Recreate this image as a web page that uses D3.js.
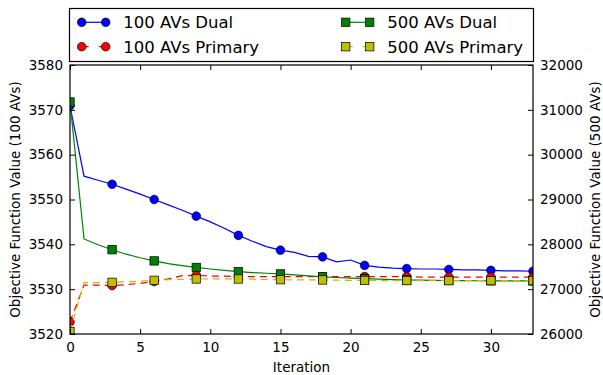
<!DOCTYPE html>
<html>
<head>
<meta charset="utf-8">
<script src="https://cdn.jsdelivr.net/npm/d3@7"></script>
<style>
    body { margin: 0; background: #fff; }
    text { font-family: "DejaVu Sans", sans-serif; fill: #000; }
</style>
</head>
<body>
<div id="chart"></div>
<script>
// Iterations 0..33
const iterations = d3.range(0, 34);

// 100 AVs (left axis)
const dual100 = [3570.9, 3555.2, 3554.3, 3553.4, 3552.3, 3551.2, 3550.0, 3548.8, 3547.6, 3546.3,
                 3545.0, 3543.6, 3542.0, 3540.7, 3539.5, 3538.7, 3538.2, 3537.3, 3537.2, 3536.1,
                 3536.5, 3535.3, 3534.9, 3534.7, 3534.6, 3534.5, 3534.5, 3534.4, 3534.3, 3534.3,
                 3534.2, 3534.1, 3534.1, 3534.0];
const primary100 = [3522.7, 3530.9, 3530.9, 3530.8, 3531.0, 3531.3, 3531.7, 3532.3, 3533.0, 3533.1,
                    3532.9, 3532.9, 3532.8, 3532.8, 3532.8, 3532.8, 3532.8, 3532.8, 3532.8, 3532.8,
                    3532.8, 3532.8, 3532.8, 3532.8, 3532.8, 3532.7, 3532.7, 3532.7, 3532.7, 3532.7,
                    3532.7, 3532.7, 3532.7, 3532.7];

// 500 AVs (right axis)
const dual500 = [31175, 28120, 27990, 27880, 27780, 27700, 27630, 27570, 27525, 27485,
                 27450, 27418, 27390, 27370, 27355, 27340, 27320, 27295, 27275, 27260,
                 27248, 27235, 27225, 27215, 27205, 27200, 27197, 27193, 27190, 27188,
                 27186, 27185, 27184, 27183];
const primary500 = [26050, 27145, 27148, 27153, 27165, 27180, 27198, 27210, 27220, 27227,
                    27228, 27228, 27227, 27222, 27216, 27211, 27208, 27206, 27205, 27200,
                    27196, 27194, 27192, 27192, 27191, 27191, 27191, 27190, 27190, 27190,
                    27190, 27190, 27190, 27190];

const xTicks = [0, 5, 10, 15, 20, 25, 30];
const leftTicks = [3520, 3530, 3540, 3550, 3560, 3570, 3580];
const rightTicks = [26000, 27000, 28000, 29000, 30000, 31000, 32000];

const width = 603, height = 375;
const margin = { top: 65, right: 70, bottom: 41, left: 70 };
const plotW = width - margin.left - margin.right;
const plotH = height - margin.top - margin.bottom;

const svg = d3.select("#chart").append("svg")
    .attr("width", width)
    .attr("height", height);

const g = svg.append("g").attr("transform", `translate(${margin.left},${margin.top})`);

const x = d3.scaleLinear().domain([0, 33]).range([0, plotW]);
const yL = d3.scaleLinear().domain([3520, 3580]).range([plotH, 0]);
const yR = d3.scaleLinear().domain([26000, 32000]).range([plotH, 0]);

svg.append("clipPath").attr("id", "clip")
    .append("rect").attr("width", plotW).attr("height", plotH);

const series = [
    { name: "100 AVs Dual", values: dual100, scale: yL, color: "#0000ff", marker: "circle", dash: null },
    { name: "100 AVs Primary", values: primary100, scale: yL, color: "#ff0000", marker: "circle", dash: "7,5" },
    { name: "500 AVs Dual", values: dual500, scale: yR, color: "#008000", marker: "square", dash: null },
    { name: "500 AVs Primary", values: primary500, scale: yR, color: "#bfbf00", marker: "square", dash: "7,5" }
];

const plot = g.append("g").attr("clip-path", "url(#clip)");

function drawMarker(sel, s, cx, cy) {
    if (s.marker === "circle") {
        sel.append("circle").attr("cx", cx).attr("cy", cy).attr("r", 4.3)
            .attr("fill", s.color).attr("stroke", "#000").attr("stroke-width", 0.7);
    } else {
        sel.append("rect").attr("x", cx - 4.2).attr("y", cy - 4.2)
            .attr("width", 8.4).attr("height", 8.4)
            .attr("fill", s.color).attr("stroke", "#000").attr("stroke-width", 0.7);
    }
}

series.forEach(s => {
    const line = d3.line().x((d, i) => x(iterations[i])).y(d => s.scale(d));
    plot.append("path")
        .attr("d", line(s.values))
        .attr("fill", "none")
        .attr("stroke", s.color)
        .attr("stroke-width", 1.2)
        .attr("stroke-dasharray", s.dash);
    // markers every 3 iterations
    iterations.forEach((it, i) => {
        if (it % 3 === 0) drawMarker(plot, s, x(it), s.scale(s.values[i]));
    });
});

// Axes with inward ticks
g.append("g").attr("transform", `translate(0,${plotH})`)
    .call(d3.axisBottom(x).tickValues(xTicks).tickSize(-5).tickSizeOuter(0).tickPadding(8.5))
    .call(a => a.select(".domain").remove());
g.append("g")
    .call(d3.axisTop(x).tickValues(xTicks).tickSize(-5).tickSizeOuter(0).tickFormat(""))
    .call(a => a.select(".domain").remove());
g.append("g")
    .call(d3.axisLeft(yL).tickValues(leftTicks).tickSize(-5).tickSizeOuter(0).tickPadding(7).tickFormat(d3.format("d")))
    .call(a => a.select(".domain").remove());
g.append("g").attr("transform", `translate(${plotW},0)`)
    .call(d3.axisRight(yR).tickValues(rightTicks).tickSize(-5).tickSizeOuter(0).tickPadding(7).tickFormat(d3.format("d")))
    .call(a => a.select(".domain").remove());

g.selectAll(".tick text").style("font-size", "13.5px").style("font-family", "DejaVu Sans");
g.selectAll(".tick line").attr("stroke", "#000");

// Frame
g.append("rect").attr("width", plotW).attr("height", plotH)
    .attr("fill", "none").attr("stroke", "#000").attr("stroke-width", 1.2);

// Axis labels
svg.append("text")
    .attr("transform", `translate(19.5,${margin.top + plotH / 2}) rotate(-90)`)
    .attr("text-anchor", "middle").style("font-size", "13.5px")
    .text("Objective Function Value (100 AVs)");
svg.append("text")
    .attr("transform", `translate(600,${margin.top + plotH / 2}) rotate(-90)`)
    .attr("text-anchor", "middle").style("font-size", "13.5px")
    .text("Objective Function Value (500 AVs)");
svg.append("text")
    .attr("x", margin.left + plotW / 2).attr("y", 372)
    .attr("text-anchor", "middle").style("font-size", "13.5px")
    .text("Iteration");

// Legend
const legend = svg.append("g");
legend.append("rect").attr("x", 69.5).attr("y", 8.5).attr("width", 464).attr("height", 53)
    .attr("fill", "#fff").attr("stroke", "#000").attr("stroke-width", 1.2);

const legendPos = [
    { x: 81.7, y: 22.3 }, { x: 81.7, y: 46.7 },
    { x: 345.7, y: 22.3 }, { x: 345.7, y: 46.7 }
];
series.forEach((s, i) => {
    const p = legendPos[i];
    const item = legend.append("g");
    item.append("line").attr("x1", p.x).attr("x2", p.x + 24).attr("y1", p.y).attr("y2", p.y)
        .attr("stroke", s.color).attr("stroke-width", 1.2)
        .attr("stroke-dasharray", s.dash ? "7,10" : null);
    drawMarker(item, s, p.x, p.y);
    drawMarker(item, s, p.x + 24, p.y);
    item.append("text").attr("x", p.x + 41.5).attr("y", p.y + 6)
        .style("font-size", "16.5px").text(s.name);
});
</script>
</body>
</html>
